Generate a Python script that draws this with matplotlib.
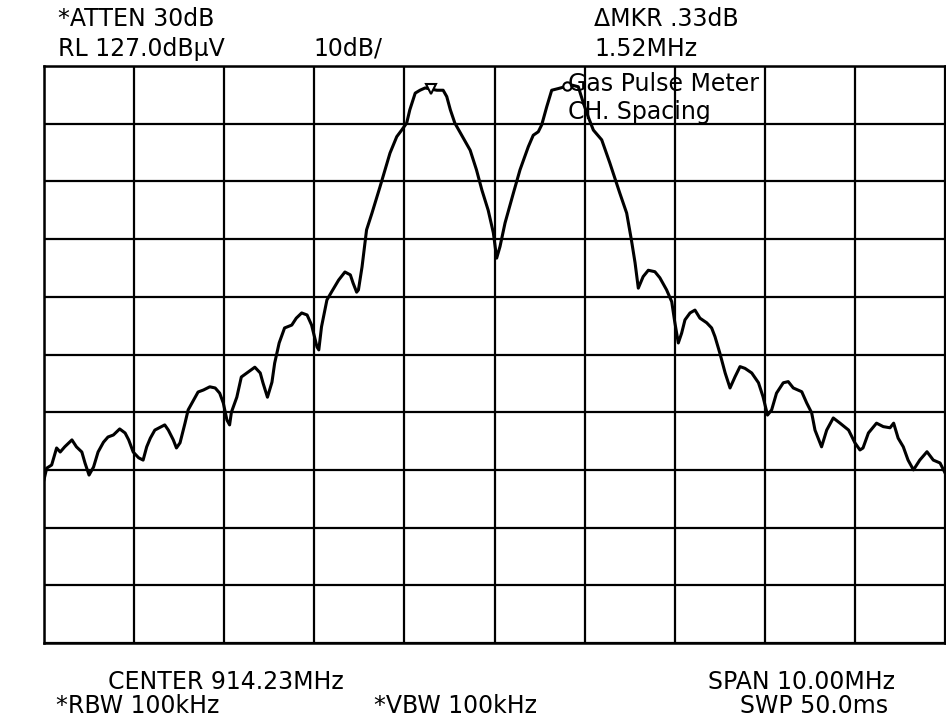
import matplotlib
matplotlib.use("Agg")
import matplotlib.pyplot as plt
import numpy as np

# Frequency offset from center (MHz) and level (dBuV)
freq_mhz = [-5.00, -4.97, -4.915, -4.86, -4.82, -4.77, -4.69, -4.64, -4.58, -4.545,
            -4.50, -4.45, -4.40, -4.34, -4.29, -4.23, -4.16, -4.10, -4.06, -4.01,
            -3.95, -3.90, -3.86, -3.82, -3.77, -3.71, -3.66, -3.62, -3.565, -3.53,
            -3.49, -3.435, -3.40, -3.34, -3.29, -3.23, -3.16, -3.10, -3.05, -3.01,
            -2.97, -2.94, -2.92, -2.86, -2.81, -2.73, -2.66, -2.60, -2.57, -2.52,
            -2.47, -2.44, -2.39, -2.33, -2.25, -2.20, -2.14, -2.08, -2.03, -1.97,
            -1.95, -1.92, -1.86, -1.81, -1.73, -1.66, -1.60, -1.57, -1.53, -1.51,
            -1.47, -1.42, -1.36, -1.27, -1.215, -1.16, -1.085, -1.03, -0.975, -0.94,
            -0.88, -0.827, -0.77, -0.705, -0.64, -0.57, -0.53, -0.49, -0.44, -0.346,
            -0.27, -0.20, -0.14, -0.07, -0.013, 0.024, 0.061, 0.117, 0.21, 0.283,
            0.375, 0.43, 0.486, 0.524, 0.58, 0.635, 0.71, 0.78, 0.857, 0.93,
            0.986, 1.04, 1.097, 1.19, 1.28, 1.39, 1.467, 1.52, 1.56, 1.596,
            1.65, 1.707, 1.78, 1.835, 1.91, 1.967, 2.00, 2.04, 2.077, 2.114,
            2.17, 2.225, 2.28, 2.355, 2.41, 2.447, 2.50, 2.56, 2.614, 2.67,
            2.725, 2.78, 2.855, 2.93, 2.98, 3.03, 3.076, 3.13, 3.205, 3.26,
            3.316, 3.41, 3.465, 3.52, 3.557, 3.63, 3.687, 3.76, 3.835, 3.93,
            4.00, 4.056, 4.09, 4.15, 4.24, 4.315, 4.39, 4.43, 4.48, 4.537,
            4.59, 4.65, 4.72, 4.80, 4.87, 4.945, 5.00]
level_dbuv = [55.3, 57.3, 57.85, 60.8, 60.1, 61.0, 62.2, 61.0, 60.1, 58.2,
              56.1, 57.5, 60.1, 61.8, 62.7, 63.05, 64.1, 63.4, 62.2, 60.1,
              59.1, 58.7, 61.0, 62.5, 63.9, 64.4, 64.8, 63.9, 62.2, 60.8,
              61.7, 65.1, 67.4, 69.1, 70.5, 70.85, 71.4, 71.2, 70.3, 68.6,
              65.65, 64.8, 67.0, 69.6, 73.1, 74.0, 74.8, 73.8, 72.1, 69.6,
              72.2, 75.5, 79.0, 81.6, 82.1, 83.3, 84.2, 83.85, 82.1, 78.3,
              77.8, 81.8, 86.45, 87.8, 89.9, 91.3, 90.8, 89.4, 87.8, 88.2,
              92.2, 98.6, 101.5, 106.1, 109.0, 111.9, 114.75, 115.9, 117.1, 119.4,
              122.3, 122.8, 123.2, 123.0, 122.8, 122.8, 121.7, 119.4, 117.1, 114.5,
              112.4, 109.0, 105.5, 102.0, 98.1, 93.7, 95.7, 99.8, 105.0, 109.0,
              113.0, 115.0, 115.6, 116.8, 119.95, 122.8, 123.1, 123.4, 123.7, 123.4,
              120.6, 118.2, 115.9, 114.2, 110.2, 105.0, 101.5, 96.8, 92.9, 88.5,
              90.5, 91.6, 91.35, 90.3, 88.2, 86.15, 82.7, 79.0, 80.7, 83.0,
              84.2, 84.7, 83.3, 82.5, 81.6, 80.1, 77.3, 73.8, 71.2, 73.15,
              74.9, 74.6, 73.8, 72.1, 69.7, 66.5, 67.4, 70.3, 72.1, 72.3,
              71.2, 70.55, 68.6, 66.9, 63.9, 61.0, 63.9, 66.0, 65.1, 63.9,
              61.7, 60.45, 60.8, 63.4, 65.1, 64.5, 64.3, 65.1, 62.5, 61.0,
              58.7, 57.0, 58.7, 60.15, 58.7, 58.2, 56.5]

# Markers: reference marker (triangle) and delta marker (circle)
marker_ref_freq = -0.705
marker_ref_level = 123.0
marker_delta_freq = 0.80
marker_delta_level = 123.5

ref_level = 127.0
db_per_div = 10.0
n_div = 10
span_mhz = 10.0

header_texts = ["*ATTEN 30dB", "RL 127.0dB\u00b5V", "10dB/", "\u0394MKR .33dB", "1.52MHz"]
annot_texts = ["Gas Pulse Meter", "CH. Spacing"]
footer_texts = ["CENTER 914.23MHz", "SPAN 10.00MHz", "*RBW 100kHz", "*VBW 100kHz", "SWP 50.0ms"]

W, H = 946, 719
fig = plt.figure(figsize=(W / 100, H / 100), dpi=100)
fig.patch.set_facecolor("white")

left, right, top, bottom = 44, 945, 66, 643
ax = fig.add_axes([left / W, 1 - bottom / H, (right - left) / W, (bottom - top) / H])
ax.set_xlim(-span_mhz / 2, span_mhz / 2)
ax.set_ylim(ref_level - n_div * db_per_div, ref_level)
ax.set_xticks(np.linspace(-span_mhz / 2, span_mhz / 2, n_div + 1))
ax.set_yticks(np.linspace(ref_level - n_div * db_per_div, ref_level, n_div + 1))
ax.tick_params(length=0, labelbottom=False, labelleft=False)
ax.grid(True, color="black", linewidth=1.6)
for s in ax.spines.values():
    s.set_linewidth(1.8)
    s.set_color("black")

ax.plot(freq_mhz, level_dbuv, color="black", linewidth=2.2, solid_joinstyle="round", zorder=3)
ax.plot([marker_ref_freq], [marker_ref_level], marker="v", markersize=7,
        markerfacecolor="white", markeredgecolor="black", markeredgewidth=1.5, zorder=4,
        clip_on=False)
ax.plot([marker_delta_freq], [marker_delta_level], marker="o", markersize=6,
        markerfacecolor="white", markeredgecolor="black", markeredgewidth=1.5, zorder=4,
        clip_on=False)

fs = 17
fam = ["DejaVu Sans"]


def ftext(xp, yp, s, ha="center"):
    fig.text(xp / W, 1 - yp / H, s, ha=ha, va="baseline", fontsize=fs,
             family=fam, color="black")


# header (centres / baselines in pixel coordinates)
ftext(136, 26, header_texts[0])
ftext(141, 56, header_texts[1])
ftext(348, 56, header_texts[2])
ftext(666, 26, header_texts[3])
ftext(646, 56, header_texts[4])

# annotation inside the graticule
ftext(568, 91, annot_texts[0], ha="left")
ftext(568, 119, annot_texts[1], ha="left")

# footer
ftext(226, 689, footer_texts[0])
ftext(801, 689, footer_texts[1])
ftext(138, 713, footer_texts[2])
ftext(455, 713, footer_texts[3])
ftext(814, 713, footer_texts[4])

fig.savefig("out.png", dpi=100, facecolor="white")
